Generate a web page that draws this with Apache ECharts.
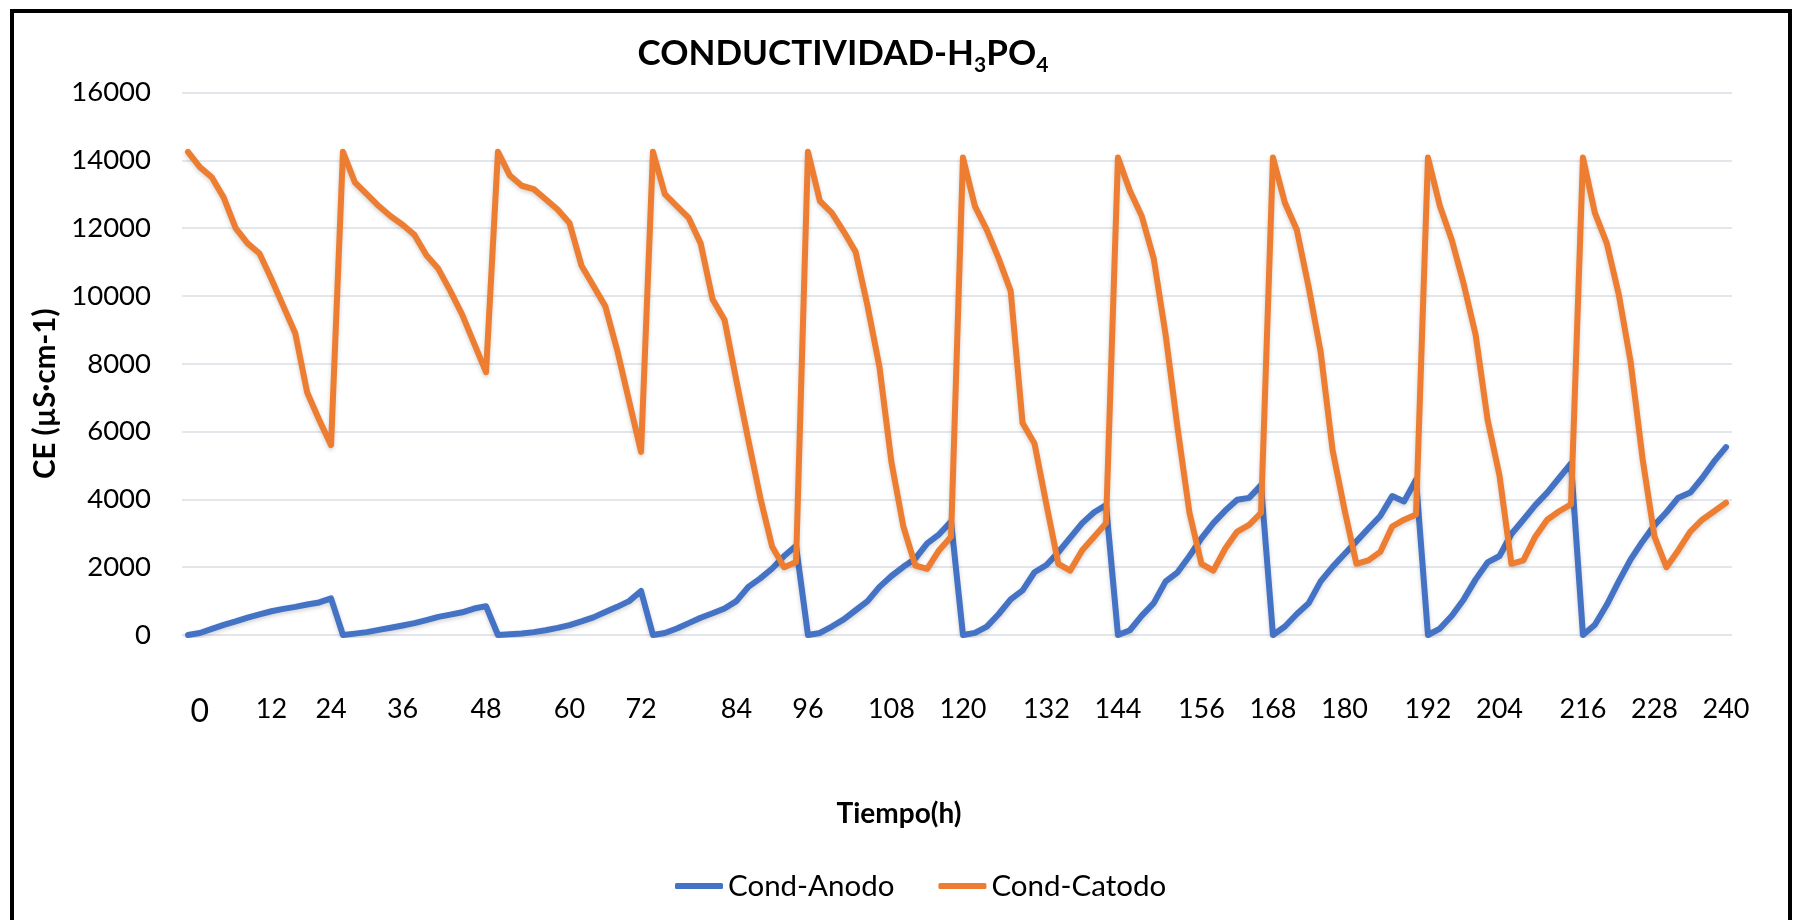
<!DOCTYPE html>
<html>
<head>
<meta charset="utf-8">
<script src="https://cdn.jsdelivr.net/npm/echarts@6/dist/echarts.min.js"></script>
<style>
  html, body { margin: 0; padding: 0; background: #fff; }
  #chart { width: 1798px; height: 920px; }
</style>
</head>
<body>
<div id="chart"></div>
<script>
// Sampling hours: each 24 h batch is read every 2 h; the reading at the end of a
// batch and the first reading of the fresh batch share the same hour.
const hours = [
  0, 2, 4, 6, 8, 10, 12, 14, 16, 18, 20, 22, 24,
  24, 26, 28, 30, 32, 34, 36, 38, 40, 42, 44, 46, 48,
  48, 50, 52, 54, 56, 58, 60, 62, 64, 66, 68, 70, 72,
  72, 74, 76, 78, 80, 82, 84, 86, 88, 90, 92, 94, 96,
  96, 98, 100, 102, 104, 106, 108, 110, 112, 114, 116, 118, 120,
  120, 122, 124, 126, 128, 130, 132, 134, 136, 138, 140, 142, 144,
  144, 146, 148, 150, 152, 154, 156, 158, 160, 162, 164, 166, 168,
  168, 170, 172, 174, 176, 178, 180, 182, 184, 186, 188, 190, 192,
  192, 194, 196, 198, 200, 202, 204, 206, 208, 210, 212, 214, 216,
  216, 218, 220, 222, 224, 226, 228, 230, 232, 234, 236, 238, 240
];

// Conductivity at the anode (µS·cm-1)
const condAnodo = [
  0, 60, 180, 300, 400, 510, 610, 700, 770, 830, 900, 960, 1080,
  0, 40, 85, 150, 214, 280, 350, 440, 535, 600, 670, 780, 850,
  0, 20, 45, 85, 140, 210, 290, 400, 520, 680, 830, 1000, 1300,
  0, 60, 190, 350, 510, 640, 780, 1000, 1420, 1670, 1960, 2330, 2630,
  0, 60, 250, 460, 730, 1000, 1420, 1740, 2010, 2250, 2700, 2970, 3350,
  0, 64, 246, 620, 1050, 1316, 1850, 2065, 2440, 2870, 3300, 3620, 3830,
  0, 140, 570, 940, 1580, 1850, 2330, 2850, 3300, 3670, 3990, 4045, 4420,
  0, 250, 620, 940, 1580, 2010, 2390, 2760, 3140, 3510, 4100, 3940, 4580,
  0, 190, 570, 1050, 1640, 2140, 2330, 2980, 3400, 3830, 4200, 4630, 5060,
  0, 300, 890, 1580, 2230, 2760, 3240, 3620, 4050, 4200, 4630, 5120, 5540
];

// Conductivity at the cathode (µS·cm-1)
const condCatodo = [
  14250, 13800, 13500, 12900, 12000, 11550, 11250, 10500, 9700, 8900, 7150, 6350, 5600,
  14250, 13350, 13000, 12650, 12350, 12100, 11800, 11200, 10800, 10150, 9450, 8600, 7750,
  14250, 13550, 13250, 13150, 12850, 12550, 12150, 10900, 10300, 9700, 8400, 6900, 5400,
  14250, 13000, 12650, 12300, 11550, 9900, 9300, 7500, 5750, 4050, 2600, 2000, 2150,
  14250, 12800, 12450, 11900, 11300, 9700, 7900, 5100, 3200, 2050, 1950, 2500, 2900,
  14080, 12650, 11950, 11100, 10150, 6250, 5650, 3850, 2100, 1900, 2500, 2900, 3300,
  14080, 13100, 12350, 11100, 8850, 6100, 3600, 2100, 1900, 2550, 3050, 3250, 3600,
  14080, 12750, 11950, 10250, 8350, 5450, 3700, 2100, 2200, 2450, 3200, 3400, 3550,
  14080, 12650, 11650, 10350, 8850, 6350, 4700, 2100, 2200, 2900, 3400, 3650, 3850,
  14080, 12450, 11550, 10050, 8050, 5200, 2900, 2000, 2500, 3050, 3400, 3650, 3900
];

// Time tick labels and the sample each one sits under
const tickLabels = ['0', '12', '24', '36', '48', '60', '72', '84', '96', '108', '120',
  '132', '144', '156', '168', '180', '192', '204', '216', '228', '240'];
const tickAt = [1, 7, 12, 18, 25, 32, 38, 46, 52, 59, 65, 72, 78, 85, 91, 97, 104, 110, 117, 123, 129];

const seriesNames = ['Cond-Anodo', 'Cond-Catodo'];
const FONT = 'Lato';

const chart = echarts.init(document.getElementById('chart'));

const lineShadow = { shadowColor: 'rgba(0,0,0,0.18)', shadowBlur: 4, shadowOffsetY: 2 };

chart.setOption({
  backgroundColor: '#ffffff',
  animation: false,
  textStyle: { fontFamily: FONT, color: '#000' },
  title: {
    text: '{t|CONDUCTIVIDAD-H}{s|3}{t|PO}{s|4}',
    left: 838,
    top: 27,
    textAlign: 'center',
    textStyle: {
      rich: {
        t: { fontFamily: FONT, fontWeight: 'bold', fontSize: 35, color: '#000', lineHeight: 44 },
        s: { fontFamily: FONT, fontWeight: 'bold', fontSize: 21, color: '#000', lineHeight: 16, verticalAlign: 'bottom' }
      }
    }
  },
  legend: {
    data: seriesNames,
    left: 670,
    top: 866,
    icon: 'roundRect',
    itemWidth: 48,
    itemHeight: 6,
    itemGap: 44,
    textStyle: { fontFamily: FONT, fontSize: 29.5, color: '#000' }
  },
  grid: { left: 182, right: 66, top: 92.5, bottom: 285, containLabel: false },
  xAxis: {
    type: 'category',
    data: hours,
    boundaryGap: true,
    name: 'Tiempo(h)',
    nameLocation: 'middle',
    nameGap: 165,
    nameTextStyle: { fontFamily: FONT, fontWeight: 'bold', fontSize: 28, color: '#000', padding: [0, 116, 0, 0] },
    axisLine: { show: false },
    axisTick: { show: false },
    splitLine: { show: false },
    axisLabel: {
      interval: (index) => tickAt.indexOf(index) !== -1,
      formatter: (value, index) => {
        const k = tickAt.indexOf(index);
        if (k === 0) return '{z|' + tickLabels[k] + '}';
        return k >= 0 ? tickLabels[k] : '';
      },
      margin: 61,
      fontFamily: FONT,
      fontSize: 27,
      color: '#000',
      rich: { z: { fontFamily: FONT, fontSize: 32, color: '#000' } }
    }
  },
  yAxis: {
    type: 'value',
    min: 0,
    max: 16000,
    interval: 2000,
    name: 'CE (µS·cm-1)',
    nameLocation: 'middle',
    nameRotate: 90,
    nameGap: 120,
    nameTextStyle: { fontFamily: FONT, fontWeight: 'bold', fontSize: 29.5, color: '#000', padding: [0, 60, 0, 0] },
    axisLine: { show: false },
    axisTick: { show: false },
    axisLabel: {
      margin: 31,
      fontFamily: FONT,
      fontSize: 27.5,
      color: '#000',
      formatter: (value) => String(value)
    },
    splitLine: { lineStyle: { color: '#dadfe6', width: 1.6 } }
  },
  series: [
    {
      name: seriesNames[0],
      type: 'line',
      data: condAnodo,
      showSymbol: false,
      symbol: 'none',
      color: '#4472C4',
      lineStyle: Object.assign({ width: 6, color: '#4472C4', join: 'round', cap: 'round' }, lineShadow)
    },
    {
      name: seriesNames[1],
      type: 'line',
      data: condCatodo,
      showSymbol: false,
      symbol: 'none',
      color: '#ED7D31',
      lineStyle: Object.assign({ width: 6, color: '#ED7D31', join: 'round', cap: 'round' }, lineShadow)
    }
  ],
  graphic: [
    {
      type: 'rect',
      silent: true,
      z: 100,
      shape: { x: 12, y: 11, width: 1778, height: 960 },
      style: { fill: null, stroke: '#000', lineWidth: 4 }
    }
  ]
});
</script>
</body>
</html>
